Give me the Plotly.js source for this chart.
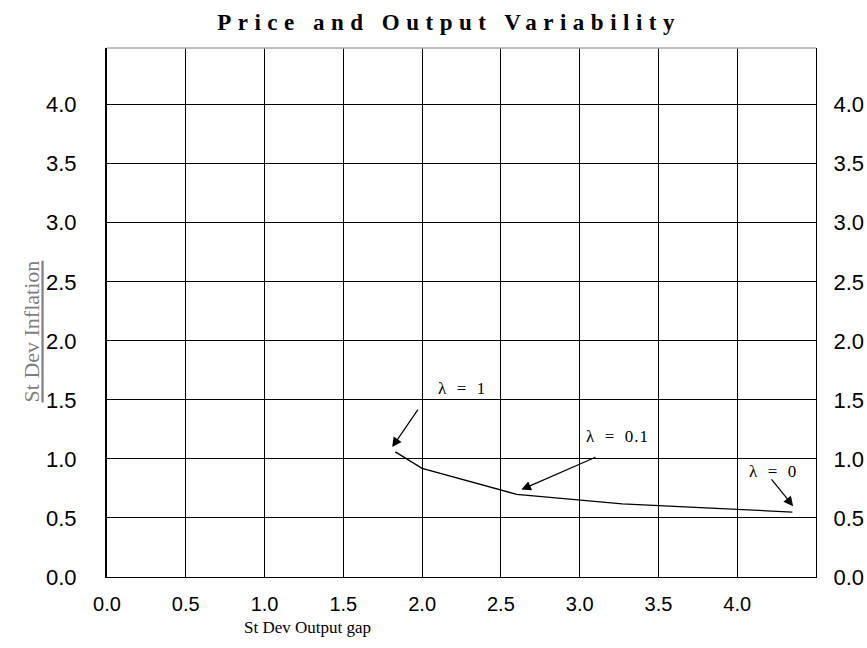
<!DOCTYPE html>
<html>
<head>
<meta charset="utf-8">
<script src="https://cdn.plot.ly/plotly-3.0.1.min.js"></script>
<style>html,body{margin:0;padding:0;background:#fff;}#chart{width:867px;height:648px;}</style>
</head>
<body>
<div id="chart"></div>
<script>
// Data
const outputGapSD = [1.83, 2.0, 2.6, 3.27, 4.35];
const inflationSD = [1.06, 0.92, 0.70, 0.62, 0.55];
const xTickVals = [0, 0.5, 1, 1.5, 2, 2.5, 3, 3.5, 4];
const xTickText = ["0.0", "0.5", "1.0", "1.5", "2.0", "2.5", "3.0", "3.5", "4.0"];
const yTickVals = [0, 0.5, 1, 1.5, 2, 2.5, 3, 3.5, 4];
const yTickText = ["0.0", "0.5", "1.0", "1.5", "2.0", "2.5", "3.0", "3.5", "4.0"];
// Lambda labels and their arrows (tail -> head, in data units)
const lambdaLabels = ["λ = 1", "λ = 0.1", "λ = 0"];
const labelX = [2.25, 3.24, 4.23];
const labelY = [1.60, 1.19, 0.89];
const arrowTailX = [1.98, 3.11, 4.21];
const arrowTailY = [1.43, 1.02, 0.84];
const arrowHeadX = [1.81, 2.63, 4.355];
const arrowHeadY = [1.10, 0.74, 0.60];

const serif = "Liberation Serif, Times New Roman, serif";
const sans = "Liberation Sans, Arial, sans-serif";

const traces = [{
  x: outputGapSD, y: inflationSD, type: "scatter", mode: "lines",
  line: {color: "#000", width: 1.3}, hoverinfo: "skip", showlegend: false
}, {
  x: outputGapSD, y: inflationSD, type: "scatter", mode: "none",
  yaxis: "y2", hoverinfo: "skip", showlegend: false
}];

const annotations = [];
for (let i = 0; i < lambdaLabels.length; i++) {
  annotations.push({
    x: labelX[i], y: labelY[i], xref: "x", yref: "y",
    text: '<span style="letter-spacing:1px">' + lambdaLabels[i].replace(/ /g, "\u2002") + '</span>',
    showarrow: false, font: {family: serif, size: 17, color: "#000"}
  });
  annotations.push({
    x: arrowHeadX[i], y: arrowHeadY[i], xref: "x", yref: "y",
    ax: arrowTailX[i], ay: arrowTailY[i], axref: "x", ayref: "y",
    text: "", showarrow: true, arrowhead: 2, arrowsize: 1.6, arrowwidth: 1.2,
    arrowcolor: "#000", standoff: 0, startstandoff: 0
  });
}
annotations.push({
  x: 0.283, y: -0.0964, xref: "paper", yref: "paper", xanchor: "center", yanchor: "middle",
  text: "St Dev Output gap",
  showarrow: false, font: {family: serif, size: 17, color: "#000"}
});
annotations.push({
  x: -0.127, y: 0.465, xref: "paper", yref: "paper", text: "St Dev Inflation",
  textangle: -90, showarrow: false,
  font: {family: serif, size: 22, color: "#7f7f7f", lineposition: "under"}
});

const layout = {
  width: 867, height: 648,
  margin: {l: 107, r: 51, t: 48, b: 71},
  paper_bgcolor: "#fff", plot_bgcolor: "#fff",
  title: {
    text: '<b><span style="letter-spacing:6.5px">Price and Output Variability</span></b>',
    font: {family: serif, size: 23, color: "#000"},
    x: 0.518, xref: "container", y: 0.966, yref: "container", yanchor: "middle"
  },
  xaxis: {
    range: [0, 4.5], tickvals: xTickVals, ticktext: xTickText,
    showgrid: true, gridcolor: "#000", gridwidth: 1,
    zeroline: false, showline: true, linecolor: "#000", linewidth: 1,
    ticks: "", ticklabelstandoff: 9,
    tickfont: {family: sans, size: 20, color: "#000"}
  },
  yaxis: {
    range: [0, 4.48], tickvals: yTickVals, ticktext: yTickText,
    showgrid: true, gridcolor: "#000", gridwidth: 1,
    zeroline: false, showline: true, linecolor: "#000", linewidth: 2,
    ticks: "", ticklabelstandoff: 24,
    tickfont: {family: sans, size: 22, color: "#000"}
  },
  yaxis2: {
    range: [0, 4.48], tickvals: yTickVals, ticktext: yTickText,
    overlaying: "y", side: "right", showgrid: false, zeroline: false,
    showline: true, linecolor: "#000", linewidth: 1, ticks: "", ticklabelstandoff: 12,
    tickfont: {family: sans, size: 22, color: "#000"}
  },
  shapes: [{
    type: "line", xref: "paper", yref: "paper", x0: 0, x1: 1, y0: 1, y1: 1,
    line: {color: "#aaa", width: 1.5}
  }],
  annotations: annotations,
  showlegend: false
};

Plotly.newPlot("chart", traces, layout, {displayModeBar: false, staticPlot: true});
</script>
</body>
</html>
